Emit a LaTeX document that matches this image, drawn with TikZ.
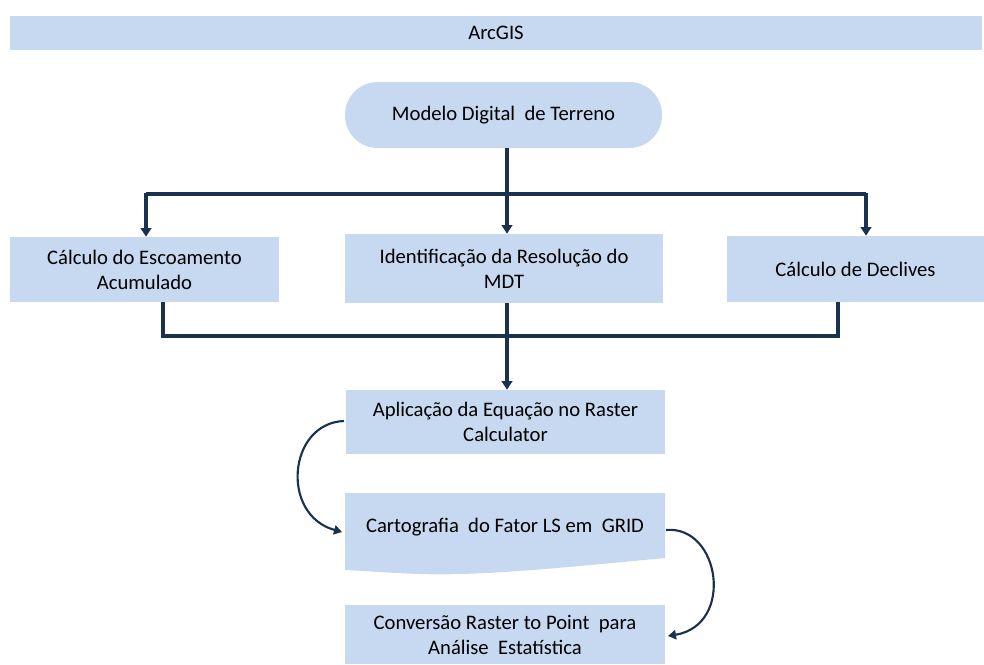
\documentclass[tikz,border=0pt]{standalone}
\usepackage{fontspec}
\setmainfont{Carlito}
\usetikzlibrary{arrows.meta}
\definecolor{boxfill}{HTML}{C6D9F0}
\definecolor{navy}{HTML}{1B3150}
\tikzset{
  box/.style={fill=boxfill, draw=none, align=center, inner sep=0pt, font=\fontsize{15.5}{18.75}\selectfont},
  conn/.style={draw=navy, line width=2.4pt},
  arr/.style={conn, -{Triangle[width=8pt,length=6.5pt]}},
  carr/.style={draw=navy, line width=1.6pt, -{Triangle[width=7pt,length=6pt]}},
}
\begin{document}
\begin{tikzpicture}[x=0.75pt,y=-0.75pt]
\useasboundingbox (0,0) rectangle (984,664);
% banner
\node[box, minimum width=729pt, minimum height=25.5pt] (arc) at (496,33) {ArcGIS};
% terminal
\node[box, minimum width=237.75pt, minimum height=49.5pt, rounded corners=24.5pt] (mdt) at (503.5,115) {Modelo Digital\ \ de Terreno};
% three boxes
\node[box, minimum width=201.75pt, minimum height=48.75pt] (esc) at (144.5,269.5) {Cálculo do Escoamento\\Acumulado};
\node[box, minimum width=238.5pt, minimum height=51.75pt] (res) at (504,268.5) {Identificação da Resolução do\\MDT};
\node[box, minimum width=192.75pt, minimum height=49.5pt] (dec) at (855.5,269) {Cálculo de Declives};
% aplicacao
\node[box, minimum width=239.25pt, minimum height=48pt] (apl) at (505.5,422) {Aplicação da Equação no Raster\\Calculator};
% cartografia document shape
\fill[boxfill] (345,493) -- (665,493) -- (665,558) .. controls (560,568) and (480,576) .. (420,574) .. controls (390,573) and (365,571) .. (345,570) -- cycle;
\node[font=\fontsize{15.5}{18.75}\selectfont, inner sep=0pt, minimum width=240pt, minimum height=48pt] (car) at (505,527) {Cartografia\ \ do Fator LS em\ \ GRID};
% conversao
\node[box, minimum width=240pt, minimum height=44.25pt] (conv) at (505,634.5) {Conversão Raster to Point\ \ para\\Análise\ \ Estatística};
% connectors top
\coordinate (j1) at (507,194);
\coordinate (jl) at (146,194);
\coordinate (jr) at (866,194);
\draw[conn] (j1 |- mdt.south) -- (j1);
\draw[conn, line width=3pt] (jl) -- (jr);
\draw[arr] ([yshift=1.1pt]jl) -- (jl |- esc.north);
\draw[arr] (j1) -- (j1 |- res.north);
\draw[arr] ([yshift=1.1pt]jr) -- (jr |- dec.north);
% connectors bottom
\coordinate (bl) at (163,336);
\coordinate (br) at (838,336);
\coordinate (bm) at (507,336);
\draw[conn, line width=3pt] (bl |- esc.south) -- (bl) -- (br) -- (br |- dec.south);
\draw[arr] (bm |- res.south) -- (bm |- apl.north);
% curved arrows
\coordinate (c1s) at (344,421);
\coordinate (c1e) at (342,532);
\coordinate (c2s) at (666,530);
\coordinate (c2e) at (668,636);
\draw[carr] (c1s) .. controls (288,423) and (280,515) .. (c1e);
\draw[carr] (c2s) .. controls (720,525) and (735,625) .. (c2e);
\end{tikzpicture}
\end{document}
